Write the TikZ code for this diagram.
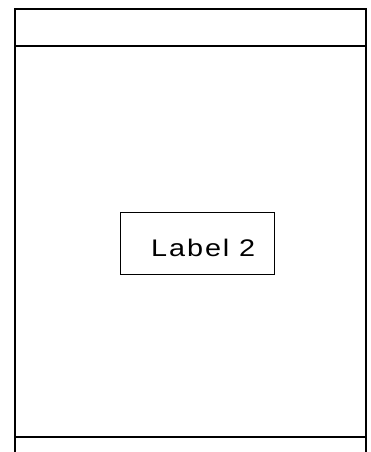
\documentclass[tikz,border=0pt]{standalone}
\usepackage{fontspec}
\setmainfont{Liberation Sans}[FakeStretch=1.2, LetterSpace=8]
\usetikzlibrary{positioning}

\begin{document}
\begin{tikzpicture}[
    x=1pt, y=1pt,
    frame/.style={draw, line width=1.2pt},
    labelbox/.style={rectangle, draw, line width=1pt, minimum width=154pt, minimum height=62pt, inner sep=0pt},
    labeltext/.style={font=\fontsize{24}{28}\selectfont, inner sep=0pt, anchor=base west}
]
    \useasboundingbox (0,0) rectangle (371,452);

    % outer frame, open at the bottom
    \coordinate (tl) at (15,443);
    \coordinate (tr) at (366,443);
    \coordinate (bl) at (15,0);
    \coordinate (br) at (366,0);
    \coordinate (hl) at (15,406);
    \coordinate (hr) at (366,406);
    \coordinate (fl) at (15,15);
    \coordinate (fr) at (366,15);
    \draw[frame] (bl) -- (tl) -- (tr) -- (br);
    \draw[frame] (hl) -- (hr);
    \draw[frame] (fl) -- (fr);

    % the label
    \node[labelbox] (box) at (197,208) {};
    \node[labeltext] (lbl) at (151,195) {Label 2};
\end{tikzpicture}
\end{document}
